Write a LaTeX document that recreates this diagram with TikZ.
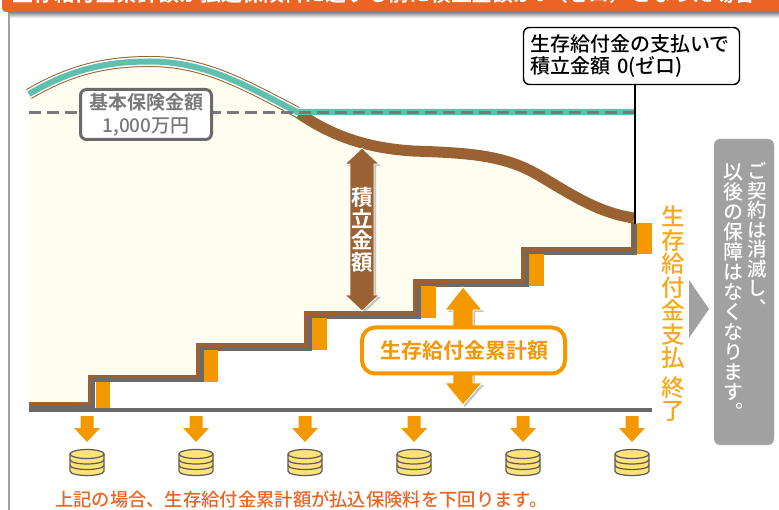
\documentclass[tikz,border=0pt]{standalone}
\usepackage{fontspec}
\setmainfont[BoldFont={Noto Sans CJK JP Bold}]{Noto Sans CJK JP}
\newfontfamily\cjkmed{Noto Sans CJK JP Medium}
\newfontfamily\cjkv[RawFeature={+vert},BoldFont={Noto Sans CJK JP Bold}]{Noto Sans CJK JP Medium}
\usetikzlibrary{positioning}
\definecolor{bannerred}{HTML}{EC6423}
\definecolor{payorange}{HTML}{F49800}
\definecolor{paylight}{HTML}{F9A81C}
\definecolor{fundbrown}{HTML}{9A6233}
\definecolor{sumteal}{HTML}{5FC0B0}
\definecolor{fundcream}{HTML}{FFFDF0}
\definecolor{stairgray}{HTML}{6A6A6A}
\definecolor{notegray}{HTML}{A0A1A0}
\definecolor{coinyellow}{HTML}{FFE27A}

\begin{document}
\begin{tikzpicture}[x=1pt,y=-1pt, every node/.style={inner sep=0pt}]
    \tikzset{sumlabel/.style={draw=stairgray,line width=3pt,rounded corners=6pt,fill=white,text=stairgray!90,align=center,font=\fontsize{19}{23}\selectfont\bfseries,minimum width=131pt,minimum height=50pt}}
    \tikzset{zerolabel/.style={draw=black,line width=1.4pt,rounded corners=6pt,fill=white,align=left,font=\fontsize{20}{22}\cjkmed,text width=202pt,inner xsep=7pt,minimum height=57pt}}
    \tikzset{paylabel/.style={draw=payorange,line width=4pt,rounded corners=13pt,fill=white,text=payorange,font=\fontsize{21}{24}\selectfont\bfseries,minimum width=203pt,minimum height=46pt}}
    \tikzset{stacktext/.style={align=center,font=\fontsize{#1}{#1}\cjkv}}
    \tikzset{paybar/.style={fill=payorange}}
    \tikzset{coin/.style={draw=stairgray!85!black,line width=1.2pt,fill=coinyellow}}
    \useasboundingbox (0,0) rectangle (779,510);

    % Banner across the top, cut off by the page
    \shade[top color=gray!80,bottom color=white] (8,13) rectangle (779,18);
    \fill[notegray] (7.5,13) rectangle (9.5,510);
    \fill[bannerred,rounded corners=4pt] (2,-10) rectangle (785,12);
    \node[anchor=base west,text=white,font=\fontsize{20.9}{24}\selectfont\bfseries] (banner) at (12,1.2) {生存給付金累計額が払込保険料に達する前に積立金額が0（ゼロ）となった場合};

    % Cream area under the fund curve
    \fill[fundcream] (29,94) .. controls (70,70) and (105,61.5) .. (150,61.5)
      .. controls (205,61.5) and (245,85) .. (297,112)
      .. controls (330,135) and (365,148) .. (413,151)
      .. controls (470,153) and (505,155) .. (540,176)
      .. controls (575,197) and (600,213) .. (634,218)
      -- (634,249) -- (523,249) -- (523,281) -- (415,281) -- (415,313) -- (306,313)
      -- (306,345) -- (198,345) -- (198,376.5) -- (89.5,376.5) -- (89.5,403.5) -- (29,403.5) -- cycle;

    % Fund curve falling after the peak
    \begin{scope}
      \clip (280,112) rectangle (640,235);
      \draw[fundbrown,line width=11pt] (290,108) -- (297,112) .. controls (330,135) and (365,148) .. (413,151)
        .. controls (470,153) and (505,155) .. (540,176)
        .. controls (575,197) and (600,213) .. (634,218);
    \end{scope}

    % Teal curve with its thin brown edge, then the flat part
    \draw[fundbrown,line width=11pt] (29,94) .. controls (70,70) and (105,61.5) .. (150,61.5) .. controls (205,61.5) and (245,85) .. (297,112);
    \draw[white,line width=9pt] (29,94) .. controls (70,70) and (105,61.5) .. (150,61.5) .. controls (205,61.5) and (245,85) .. (299,113);
    \draw[sumteal,line width=6pt] (29,94) .. controls (70,70) and (105,61.5) .. (150,61.5) .. controls (205,61.5) and (245,85) .. (297,112) -- (634,112);
    \draw[stairgray!90,line width=3pt,dash pattern=on 11.5pt off 6.5pt] (29,113) -- (634,113);

    % Stairs: brown edge and gray edge
    \draw[fundbrown,line width=3.8pt] (29,403.5) -- (89.5,403.5) -- (89.5,376.5) -- (198,376.5) -- (198,345) -- (306,345)
      -- (306,313) -- (415,313) -- (415,281) -- (523,281) -- (523,249) -- (632.5,249) -- (632.5,222);
    \draw[stairgray,line width=3.8pt] (29,408) -- (93.2,408) -- (93.2,380.2) -- (201.7,380.2) -- (201.7,348.7) -- (309.7,348.7)
      -- (309.7,316.7) -- (418.7,316.7) -- (418.7,284.7) -- (526.7,284.7) -- (526.7,252.7) -- (635,252.7) -- (635,224);
    \fill[stairgray] (29,405) rectangle (94,411.7);
    \fill[stairgray] (29,407.7) rectangle (652,411.7);

    % Yearly payments
    \foreach \xa/\ya/\yb in {95.5/382/407.7, 203.5/350.5/382, 312/318.5/350.5, 421/286.5/318.5, 529/254.5/286.5, 637/223/254.5}
      \fill[paybar] (\xa,\ya) rectangle ({\xa+14.5},\yb);

    % Arrows and coins under the axis
    \foreach \cx in {87,196,305,414,523,632} {
      \begin{scope}[shift={(\cx,0)}]
        \fill[payorange] (-6.5,416) -- (6.5,416) -- (6.5,428) -- (13,428) -- (0,442) -- (-13,428) -- (-6.5,428) -- cycle;
        \draw[coin] (-17,454) -- (-17,471) .. controls (-17,477) and (17,477) .. (17,471) -- (17,454);
        \draw[coin,fill=none] (-17,459.5) .. controls (-17,465.5) and (17,465.5) .. (17,459.5);
        \draw[coin,fill=none] (-17,465) .. controls (-17,471) and (17,471) .. (17,465);
        \draw[coin] (0,454) ellipse (17 and 4.5);
      \end{scope}
    }

    % Fund arrow
    \fill[gray,opacity=.45] (364,150) -- (381,166) -- (376,166) -- (376,297) -- (381,297) -- (364,313) -- (347,297) -- (352,297) -- (352,166) -- (347,166) -- cycle;
    \draw[white,line width=.8pt,fill=fundbrown] (362,148) -- (379,164) -- (374,164) -- (374,295) -- (379,295) -- (362,311) -- (345,295) -- (350,295) -- (350,164) -- (345,164) -- cycle;
    \node[stacktext=21.5,text=white,font=\fontsize{21.5}{21.5}\cjkv\bfseries] (fundtext) at (362,230) {積\\立\\金\\額};

    % Payment arrow with its label on top
    \fill[gray,opacity=.45] (465,289) -- (484,312) -- (475,312) -- (475,385) -- (484,385) -- (465,407) -- (448,385) -- (455,385) -- (455,312) -- (448,312) -- cycle;
    \draw[white,line width=.8pt,fill=payorange] (463,287) -- (482,310) -- (473,310) -- (473,383) -- (482,383) -- (463,405) -- (445,383) -- (453,383) -- (453,310) -- (445,310) -- cycle;
    \node[paylabel] (paysum) at (463.5,350.5) {\hspace{2pt}生存給付金累計額};

    % Labels on the curve
    \node[sumlabel] (sumbox) at (146,114.5) {\raisebox{-1pt}{基本保険金額}\\\raisebox{-1pt}{\cjkmed\mdseries 1,000万円}};
    \node[zerolabel] (zerobox) at (631.5,56) {生存給付金の支払いで\\積立金額 0(ゼロ)};
    \coordinate (zeroend) at (635,224);
    \draw[black,line width=2.8pt] (zerobox.south -| zeroend) -- (zeroend);

    % End of the payments
    \node[stacktext=23.5,text=paylight] (payend) at (673,314) {生\\存\\給\\付\\金\\支\\払\\[6pt]終\\了};
    \fill[notegray] (689,280) -- (709,309) -- (689,338) -- cycle;

    % Gray note
    \fill[stairgray!60,rounded corners=6pt] (714,141) rectangle (774,445);
    \fill[notegray,rounded corners=6pt] (714,139) rectangle (774,442);
    \node[stacktext=19.5,text=white,anchor=north] (noteright) at (757,162) {ご\\契\\約\\は\\消\\滅\\し\\、};
    \node[stacktext=20,text=white,anchor=north] (noteleft) at (733,163) {以\\後\\の\\保\\障\\は\\な\\く\\な\\り\\ま\\す\\。};

    % Closing remark
    \node[text=bannerred,font=\fontsize{18.3}{20}\cjkmed,anchor=west] (remark) at (55,499) {上記の場合、生存給付金累計額が払込保険料を下回ります。};
  \end{tikzpicture}
\end{document}
